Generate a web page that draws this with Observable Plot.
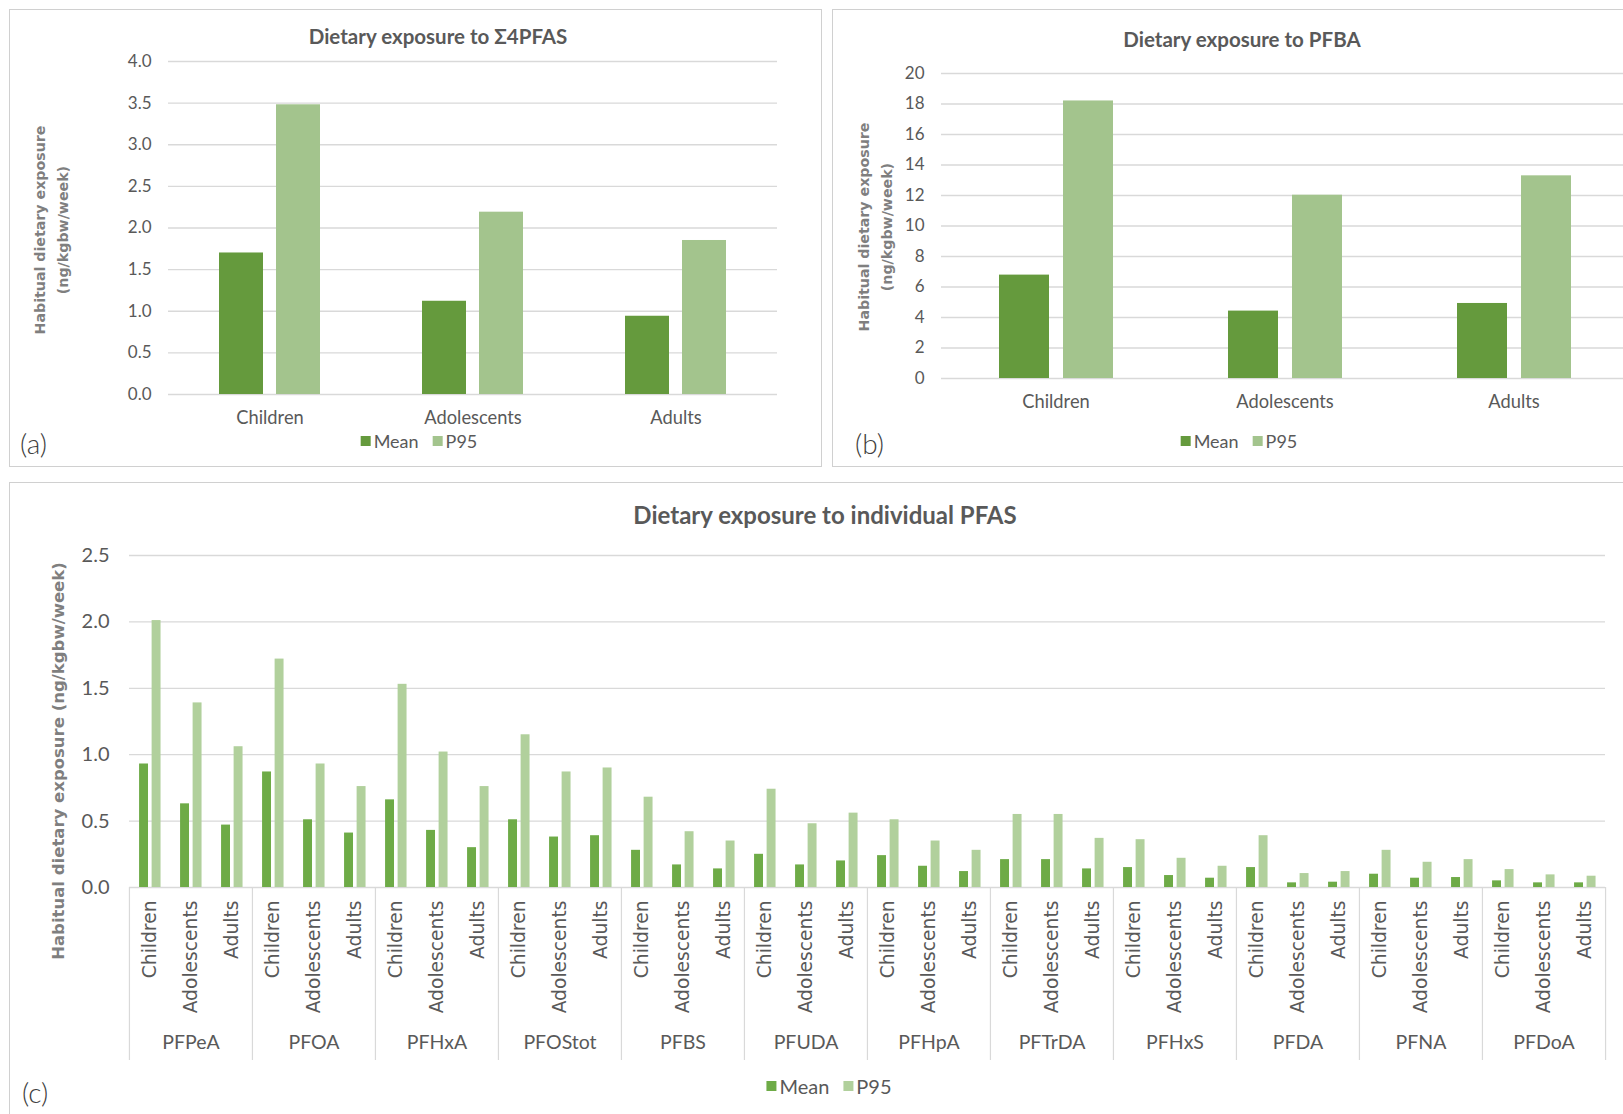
<!DOCTYPE html>
<html>
<head>
<meta charset="utf-8">
<script src="https://cdn.jsdelivr.net/npm/d3@7"></script>
<script src="https://cdn.jsdelivr.net/npm/@observablehq/plot@0.6"></script>
<style>
  html, body { margin: 0; padding: 0; }
  body { width: 1623px; height: 1114px; overflow: hidden; background: #fff; position: relative;
         font-family: Lato, "Open Sans", sans-serif; color: #595959; }
  .panel { position: absolute; border: 1px solid #d0d0d0; box-sizing: border-box; }
  .holder { position: absolute; }
  .title { position: absolute; transform: translate(-50%, -50%); white-space: nowrap; font-weight: bold; color: #595959; }
  .ylab { position: absolute; transform: translate(-50%, -50%) rotate(-90deg); white-space: nowrap; text-align: center;
          font-family: "DejaVu Sans", Verdana, sans-serif; font-weight: bold; color: #7f7f7f; line-height: 1.6; }
  .legend { position: absolute; transform: translate(-50%, -50%); display: flex; align-items: center; white-space: nowrap; color: #595959; }
  .legend .sw { display: inline-block; width: 10px; height: 10px; margin-right: 3px; }
  .legend .item { display: inline-flex; align-items: center; margin: 0 7px; }
  .tag { position: absolute; transform: translate(0, -50%); font-size: 28px; color: #404040; font-family: Lato, sans-serif; font-weight: 300; }
</style>
</head>
<body>
<div class="panel" style="left:9px;top:9px;width:813px;height:458px;"></div>
<div class="panel" style="left:832px;top:9px;width:820px;height:458px;"></div>
<div class="panel" style="left:9px;top:482px;width:1640px;height:650px;"></div>

<div class="holder" id="pa" style="left:9px;top:9px;width:812px;height:458px;"></div>
<div class="holder" id="pb" style="left:832px;top:9px;width:812px;height:458px;"></div>
<div class="holder" id="pc" style="left:0px;top:480px;width:1623px;height:634px;"></div>

<div class="title" style="left:438px;top:36px;font-size:20.5px;">Dietary exposure to Σ4PFAS</div>
<div class="title" style="left:1242px;top:39px;font-size:20.5px;">Dietary exposure to PFBA</div>
<div class="title" style="left:825px;top:514px;font-size:24px;">Dietary exposure to individual PFAS</div>

<div class="ylab" style="left:52px;top:230px;font-size:14.2px;">Habitual dietary exposure<br>(ng/kgbw/week)</div>
<div class="ylab" style="left:876px;top:227px;font-size:14.2px;">Habitual dietary exposure<br>(ng/kgbw/week)</div>
<div class="ylab" style="left:59px;top:761px;font-size:16.5px;">Habitual dietary exposure (ng/kgbw/week)</div>

<div class="tag" style="left:20px;top:443px;">(a)</div>
<div class="tag" style="left:855px;top:443px;">(b)</div>
<div class="tag" style="left:22px;top:1092px;">(c)</div>

<div id="legA" class="legend" style="left:419px;top:441px;font-size:18px;"></div>
<div id="legB" class="legend" style="left:1239px;top:441px;font-size:18px;"></div>
<div id="legC" class="legend" style="left:829px;top:1086px;font-size:20px;"></div>

<script>
// ---------- data ----------
const groups = ["Children", "Adolescents", "Adults"];
const seriesNames = ["Mean", "P95"];

// (a) Σ4PFAS
const sum4Mean = [1.70, 1.12, 0.94];
const sum4P95 = [3.48, 2.19, 1.85];
const ticksA = [0, 0.5, 1.0, 1.5, 2.0, 2.5, 3.0, 3.5, 4.0];

// (b) PFBA
const pfbaMean = [6.78, 4.42, 4.92];
const pfbaP95 = [18.2, 12.02, 13.29];
const ticksB = [0, 2, 4, 6, 8, 10, 12, 14, 16, 18, 20];

// (c) individual PFAS
const compounds = ["PFPeA", "PFOA", "PFHxA", "PFOStot", "PFBS", "PFUDA", "PFHpA", "PFTrDA", "PFHxS", "PFDA", "PFNA", "PFDoA"];
const meanChildren    = [0.93, 0.87, 0.66, 0.51, 0.28, 0.25, 0.24, 0.21, 0.15, 0.15, 0.10, 0.05];
const meanAdolescents = [0.63, 0.51, 0.43, 0.38, 0.17, 0.17, 0.16, 0.21, 0.09, 0.035, 0.07, 0.035];
const meanAdults      = [0.47, 0.41, 0.30, 0.39, 0.14, 0.20, 0.12, 0.14, 0.07, 0.04, 0.075, 0.035];
const p95Children     = [2.01, 1.72, 1.53, 1.15, 0.68, 0.74, 0.51, 0.55, 0.36, 0.39, 0.28, 0.135];
const p95Adolescents  = [1.39, 0.93, 1.02, 0.87, 0.42, 0.48, 0.35, 0.55, 0.22, 0.105, 0.19, 0.095];
const p95Adults       = [1.06, 0.76, 0.76, 0.90, 0.35, 0.56, 0.28, 0.37, 0.16, 0.12, 0.21, 0.085];
const ticksC = [0, 0.5, 1.0, 1.5, 2.0, 2.5];

// ---------- styles ----------
const MEAN_AB = "#659a3d", P95_AB = "#a3c48d";
const MEAN_C = "#6eab47", P95_C = "#b1d09c";
const GRID = "#d9d9d9";
const fmt1 = d3.format(".1f");

function groupRows(mean, p95) {
  return groups.flatMap((g, i) => [
    {group: g, series: "Mean", value: mean[i]},
    {group: g, series: "P95", value: p95[i]}
  ]);
}

function groupedPlot(data, ticks, tickFormat, dims) {
  return Plot.plot({
    width: dims.width, height: dims.height,
    marginLeft: dims.ml, marginRight: dims.mr, marginTop: dims.mt, marginBottom: dims.mb,
    style: {background: "transparent", fontFamily: "Lato, sans-serif", fontSize: "17px", color: "#595959", overflow: "visible"},
    fx: {domain: groups, padding: 0, label: null},
    x: {domain: seriesNames, paddingInner: 0.22, paddingOuter: 0.88, axis: null},
    y: {domain: [ticks[0], ticks[ticks.length - 1]], label: null},
    color: {domain: seriesNames, range: [MEAN_AB, P95_AB]},
    marks: [
      Plot.gridY(ticks, {stroke: GRID, strokeOpacity: 1, strokeWidth: 1.3}),
      Plot.barY(data, {fx: "group", x: "series", y: "value", fill: "series"}),
      Plot.axisY(ticks, {tickSize: 0, tickPadding: 17, tickFormat, label: null}),
      Plot.axisFx({anchor: "bottom", tickSize: 0, tickPadding: 16, label: null, fontSize: 18.3})
    ]
  });
}

document.getElementById("pa").append(
  groupedPlot(groupRows(sum4Mean, sum4P95), ticksA, fmt1,
    {width: 812, height: 458, ml: 159, mr: 44, mt: 52, mb: 73}));

document.getElementById("pb").append(
  groupedPlot(groupRows(pfbaMean, pfbaP95), ticksB, d3.format("d"),
    {width: 812, height: 458, ml: 108, mr: 16, mt: 64, mb: 89}));

// ---------- panel (c) ----------
const meanBy = {Children: meanChildren, Adolescents: meanAdolescents, Adults: meanAdults};
const p95By = {Children: p95Children, Adolescents: p95Adolescents, Adults: p95Adults};
const rowsMean = compounds.flatMap((c, i) => groups.map(g => ({compound: c, age: g, series: "Mean", value: meanBy[g][i]})));
const rowsP95 = compounds.flatMap((c, i) => groups.map(g => ({compound: c, age: g, series: "P95", value: p95By[g][i]})));

const C = {width: 1623, height: 634, ml: 127, mr: 16, mt: 75, mb: 227};
const frameW = C.width - C.ml - C.mr;
const frameH = C.height - C.mt - C.mb;
const bw = frameW / compounds.length / groups.length;

const plotC = Plot.plot({
  width: C.width, height: C.height,
  marginLeft: C.ml, marginRight: C.mr, marginTop: C.mt, marginBottom: C.mb,
  style: {background: "transparent", fontFamily: "Lato, sans-serif", fontSize: "20px", color: "#595959", overflow: "visible"},
  fx: {domain: compounds, padding: 0, label: null},
  x: {domain: groups, padding: 0, label: null},
  y: {domain: [0, 2.5], label: null},
  color: {domain: seriesNames, range: [MEAN_C, P95_C]},
  marks: [
    Plot.gridY(ticksC, {stroke: GRID, strokeOpacity: 1, strokeWidth: 1.3}),
    Plot.ruleX(["Children"], {x: d => d, dx: -bw / 2, insetTop: frameH, insetBottom: -173, stroke: GRID, strokeWidth: 1.2}),
    Plot.ruleX([{compound: compounds[compounds.length - 1], age: "Adults"}], {fx: "compound", x: "age", dx: bw / 2, insetTop: frameH, insetBottom: -173, stroke: GRID, strokeWidth: 1.2}),
    Plot.barY(rowsMean, {fx: "compound", x: "age", y: "value", fill: "series", insetLeft: bw * 0.245, insetRight: bw * 0.535}),
    Plot.barY(rowsP95, {fx: "compound", x: "age", y: "value", fill: "series", insetLeft: bw * 0.55, insetRight: bw * 0.23}),
    Plot.axisY(ticksC, {tickSize: 0, tickPadding: 20, tickFormat: fmt1, label: null}),
    Plot.axisX({tickRotate: -90, tickSize: 0, tickPadding: 13, label: null, fontFamily: "DejaVu Sans, Verdana, sans-serif", fontSize: 18.7}),
    Plot.axisFx({anchor: "bottom", tickSize: 0, tickPadding: 148, label: null, fontSize: 19.5})
  ]
});
document.getElementById("pc").append(plotC);

// ---------- legends ----------
function legend(id, cMean, cP95) {
  const el = document.getElementById(id);
  [[seriesNames[0], cMean], [seriesNames[1], cP95]].forEach(([name, col]) => {
    const item = document.createElement("span");
    item.className = "item";
    const sw = document.createElement("span");
    sw.className = "sw";
    sw.style.background = col;
    item.append(sw, document.createTextNode(name));
    el.append(item);
  });
}
legend("legA", MEAN_AB, P95_AB);
legend("legB", MEAN_AB, P95_AB);
legend("legC", MEAN_C, P95_C);
</script>
</body>
</html>
